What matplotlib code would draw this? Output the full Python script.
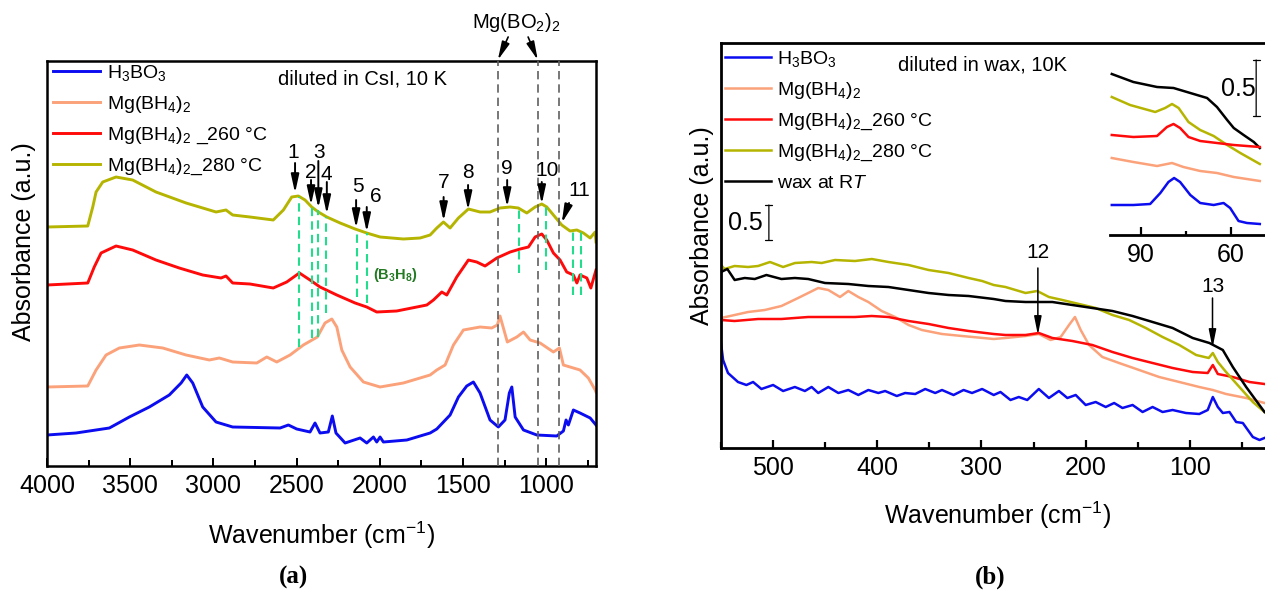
import matplotlib
matplotlib.use("Agg")
import matplotlib.pyplot as plt
from matplotlib.ticker import MultipleLocator, FixedLocator

plt.rcParams["font.family"] = ["Liberation Sans", "DejaVu Sans"]
plt.rcParams["mathtext.fontset"] = "custom"
plt.rcParams["mathtext.rm"] = "Liberation Sans"
plt.rcParams["mathtext.it"] = "Liberation Sans:italic"
plt.rcParams["mathtext.bf"] = "Liberation Sans:bold"
plt.rcParams["mathtext.default"] = "regular"

# ── colours ──
C_BLUE = "#0c0cf0"
C_SALMON = "#fba27a"
C_RED = "#ff0a0a"
C_OLIVE = "#b5b400"
C_BLACK = "#000000"
C_GREEN = "#22dd8c"
C_GREY = "#606060"

# ── panel (a): FTIR, diluted in CsI (wavenumber, absorbance a.u.) ──
olive_a_x = [4000, 3755, 3725, 3705, 3665, 3585, 3485, 3345, 3164, 2984, 2924, 2884, 2780,
             2640, 2579, 2529, 2489, 2449, 2409, 2369, 2318, 2238, 2148, 2078, 1998, 1858,
             1757, 1697, 1657, 1617, 1577, 1527, 1467, 1397, 1337, 1277, 1216, 1167, 1116,
             1066, 1026, 996, 956, 906, 856, 815, 776, 735, 705, 700]
olive_a_y = [239, 240, 259, 274, 284, 289, 286, 274, 263, 254, 256, 251, 249,
             246, 256, 269, 270, 266, 259, 254, 249, 243, 237, 233, 229, 227,
             228, 231, 238, 244, 238, 248, 257, 254, 254, 258, 259, 258, 253,
             259, 262, 259, 251, 241, 235, 236, 233, 228, 234, 224]

red_a_x = [4000, 3755, 3716, 3675, 3585, 3485, 3345, 3205, 3064, 2954, 2924, 2884, 2780,
           2640, 2559, 2483, 2419, 2359, 2258, 2148, 2078, 2018, 1898, 1777, 1717, 1677,
           1627, 1597, 1537, 1467, 1417, 1367, 1296, 1216, 1156, 1106, 1066, 1026, 996,
           956, 916, 876, 836, 815, 796, 755, 731, 700]
red_a_y = [181, 183, 199, 213, 220, 216, 206, 198, 191, 188, 190, 183, 182,
           178, 184, 193, 186, 179, 171, 163, 159, 154, 155, 159, 161, 166,
           174, 171, 189, 206, 204, 200, 208, 214, 217, 219, 229, 232, 226,
           213, 206, 194, 191, 183, 191, 188, 178, 196]

salmon_a_x = [4000, 3755, 3705, 3645, 3565, 3445, 3304, 3164, 3024, 2964, 2884, 2739, 2679,
              2619, 2539, 2459, 2375, 2329, 2288, 2258, 2228, 2178, 2098, 1998, 1858, 1697,
              1657, 1607, 1557, 1497, 1397, 1327, 1293, 1277, 1233, 1176, 1136, 1096, 1036,
              956, 920, 896, 836, 796, 746, 705, 700]
salmon_a_y = [79, 80, 96, 111, 118, 121, 118, 111, 106, 108, 104, 103, 109,
              104, 111, 121, 129, 143, 147, 139, 116, 99, 84, 79, 83, 91,
              96, 101, 121, 136, 139, 138, 141, 150, 124, 129, 134, 126, 123,
              114, 118, 101, 98, 96, 88, 76, 74]

blue_a_x = [4000, 3826, 3625, 3505, 3385, 3265, 3194, 3160, 3124, 3064, 2984, 2884, 2599,
            2549, 2499, 2419, 2389, 2359, 2309, 2285, 2263, 2208, 2118, 2078, 2038, 2018,
            1998, 1978, 1837, 1697, 1657, 1577, 1527, 1477, 1437, 1397, 1337, 1287, 1247,
            1221, 1206, 1186, 1136, 1056, 936, 896, 880, 866, 836, 796, 735, 700]
blue_a_y = [31, 33, 38, 49, 59, 71, 83, 91, 83, 59, 44, 39, 38,
            41, 37, 34, 43, 33, 34, 50, 33, 23, 28, 23, 29, 24,
            29, 24, 26, 33, 37, 51, 69, 80, 84, 73, 46, 39, 46,
            73, 79, 49, 36, 31, 30, 35, 46, 41, 56, 53, 48, 41]

# assigned bands (arrows 1-10) and label positions
peaks_a = [2509, 2413, 2369, 2318, 2142, 2078, 1616, 1469, 1234, 1026]
peak_tail_a = [303, 286, 305, 284, 266, 259, 269, 281, 286, 284]
peak_tip_a = [273, 261, 258, 252, 238, 234, 245, 256, 259, 262]
peak_lbl_x = [2521, 2413, 2365, 2320, 2130, 2025, 1616, 1471, 1234, 996]
peak_lbl_y = [313, 293, 314, 291, 279, 269, 283, 294, 298, 296]

# B3H8 guide lines (green) and Mg(BO2)2 guide lines (grey)
green_x = [2483, 2409, 2369, 2323, 2138, 2078, 1162, 1000, 840, 791]
green_top = [269, 263, 256, 249, 236, 233, 256, 259, 236, 236]
green_bot = [119, 128, 129, 153, 169, 163, 193, 196, 171, 171]
grey_x = [1290, 1050, 924]

# ── panel (b): far-IR, diluted in wax ──
blue_b_x = [550, 548, 543.3, 533.7, 525.6, 519.2, 511.2, 500, 490.4, 479.1, 469.5, 463, 456.7,
            447, 437.4, 427.8, 418.2, 408.6, 399, 392.5, 381.3, 373.3, 363.6, 354, 344.4,
            337.9, 326.8, 317.2, 309.1, 299.4, 288.3, 281.8, 272.2, 264.2, 256.1, 245,
            235.3, 225.7, 217.6, 209.6, 200, 190.4, 180.8, 172.7, 164.7, 155, 145.4, 135.8,
            126.2, 116.6, 103.8, 91, 82.9, 78, 73.2, 68.4, 62, 55.6, 49.2, 39.6, 33.2, 28.4]
blue_b_y = [105, 88, 75, 66, 63, 66, 59, 63, 57, 61, 57, 61, 55,
            61, 55, 58, 53, 58, 55, 57, 52, 55, 54, 59, 55,
            58, 53, 58, 55, 59, 53, 56, 48, 51, 48, 59,
            50, 57, 50, 53, 43, 46, 41, 45, 40, 43, 36, 41,
            36, 38, 35, 34, 38, 51, 41, 35, 36, 26, 25, 11, 8, 10]

salmon_b_x = [550, 536.9, 524, 508, 492, 476, 466.3, 456.7, 447, 435.8, 427.8, 418.2, 408.6,
              395.8, 382.9, 370, 357.2, 337.9, 318.7, 288.3, 277, 257.7, 245, 233.7, 224,
              216, 210.3, 204.8, 196.8, 184, 168, 148.7, 129.5, 110.2, 91, 78, 65.3, 46, 28.4]
salmon_b_y = [130, 133, 136, 138, 142, 150, 155, 160, 158, 151, 157, 151, 146,
              137, 131, 123, 118, 114, 112, 109, 110, 112, 114, 108, 111,
              123, 131, 118, 103, 91, 85, 78, 71, 66, 61, 58, 54, 50, 45]

red_b_x = [550, 537, 514.4, 492, 466.3, 440.6, 421.4, 405.3, 389.3, 370, 350.8, 331.6, 312.3,
           288.3, 277, 257.7, 245, 232, 212.8, 193.6, 174.3, 155, 135.8, 116.6, 97.3, 82.9,
           78, 73.2, 58.8, 42.8, 28.4]
red_b_y = [128, 127, 129, 129, 131, 131, 131, 132, 131, 127, 124, 120, 117,
           114, 113, 113, 115, 110, 107, 103, 96, 90, 85, 80, 76, 75,
           83, 74, 71, 66, 64]

olive_b_x = [550, 546.5, 537, 524, 514.4, 503, 490.4, 479, 463, 453.4, 440.6, 421.4, 405.3,
             389.3, 370, 350.8, 331.6, 312.3, 299.4, 288.3, 277, 257.7, 246.5, 235.3, 222.4,
             206.4, 190.4, 174.3, 158.3, 142.3, 126.2, 110.2, 94, 81.9, 78, 73.2, 65.3, 52.5,
             39.6, 28.4]
olive_b_y = [183, 179, 182, 181, 182, 186, 181, 185, 186, 185, 188, 187, 189,
             186, 183, 178, 175, 170, 167, 163, 161, 155, 157, 151, 148,
             144, 140, 133, 128, 120, 111, 103, 93, 90, 95, 86, 76, 61,
             46, 36]

black_b_x = [550, 543.9, 536.9, 527.2, 517.6, 506.4, 492, 479.1, 466.3, 450.2, 427.8, 408.6,
             389.3, 370, 350.8, 331.6, 312.3, 288.3, 277, 257.7, 232, 212.8, 193.6, 174.3,
             155, 135.8, 116.6, 97.3, 81.3, 68.4, 58.8, 46, 28.4]
black_b_y = [176, 179, 168, 170, 169, 173, 169, 170, 169, 165, 164, 162,
             161, 158, 155, 153, 152, 149, 147, 146, 146, 143, 140, 137,
             132, 126, 120, 110, 105, 98, 81, 61, 36]

peaks_b = [245.9, 78.3]
peak_tail_b = [180, 150]
peak_tip_b = [113, 100]
peak_lbl_b = [195, 161]

# ── inset: 100-48 cm-1 zoom ──
inset_x = [99.8, 92.6, 84.7, 79.2, 73.6, 68, 64.7, 61.3, 59.1, 55.8, 52.4, 50.4]
black_in_y = [161, 153, 148, 147, 142, 137, 128, 115, 107, 100, 93, 87]
olive_in_x = [99.8, 93.7, 85.3, 82, 79.7, 77.5, 74.2, 70.3, 65.8, 61.3, 56.9, 50.4]
olive_in_y = [138, 130, 123, 127, 131, 127, 113, 105, 99, 90, 82, 71]
red_in_x = [99.8, 92.6, 84.7, 81.4, 79.2, 77, 74.2, 70.3, 64.7, 59.1, 50.4]
red_in_y = [100, 98, 99, 108, 111, 107, 98, 94, 92, 90, 88]
salmon_in_x = [99.8, 92.6, 84.7, 79.7, 75.9, 70.3, 64.7, 59.1, 50.4]
salmon_in_y = [77, 73, 69, 72, 68, 64, 62, 58, 54]
blue_in_x = [99.8, 92.6, 87, 83.6, 80.9, 79, 77, 73.6, 70.3, 65.8, 62.5, 60.3, 57.5, 54.7, 50.4]
blue_in_y = [30, 30, 31, 42, 53, 57, 53, 40, 32, 30, 32, 27, 14, 12, 11]

labels_a = ["H$_3$BO$_3$", "Mg(BH$_4$)$_2$", "Mg(BH$_4$)$_2$ _260 °C", "Mg(BH$_4$)$_2$_280 °C"]
labels_b = ["H$_3$BO$_3$", "Mg(BH$_4$)$_2$", "Mg(BH$_4$)$_2$_260 °C", "Mg(BH$_4$)$_2$_280 °C",
            "wax at R$\\mathit{T}$"]

W, H = 1265, 591
fig = plt.figure(figsize=(W / 100, H / 100), dpi=100)

TICK_FS = 18
LABEL_FS = 18
LEG_FS = 14
NUM_FS = 15
ARROW = "-|>,head_length=0.55,head_width=0.12"


def style_axis(ax, lw):
    for s in ax.spines.values():
        s.set_linewidth(lw)
    ax.set_yticks([])
    ax.tick_params(axis="x", which="both", direction="in", labelsize=TICK_FS, pad=6, width=lw * 0.8)
    ax.tick_params(axis="x", which="major", length=6)
    ax.tick_params(axis="x", which="minor", length=4)


# ── panel (a) ──
ax = fig.add_axes([47 / W, (H - 466) / H, 549 / W, 405 / H])
lw_a = 2.1
ax.plot(blue_a_x, blue_a_y, color=C_BLUE, lw=lw_a, label=labels_a[0])
ax.plot(salmon_a_x, salmon_a_y, color=C_SALMON, lw=lw_a, label=labels_a[1])
ax.plot(red_a_x, red_a_y, color=C_RED, lw=lw_a, label=labels_a[2])
ax.plot(olive_a_x, olive_a_y, color=C_OLIVE, lw=lw_a, label=labels_a[3])
ax.vlines(green_x, green_bot, green_top, colors=C_GREEN, linestyles=(0, (4, 2.5)), lw=1.5, zorder=3)
ax.vlines(grey_x, 0, 405, colors=C_GREY, linestyles=(0, (5, 3)), lw=1.2, zorder=3)
ax.set_xlim(4000, 700)
ax.set_ylim(0, 405)
ax.xaxis.set_major_locator(FixedLocator([4000, 3500, 3000, 2500, 2000, 1500, 1000]))
ax.xaxis.set_minor_locator(MultipleLocator(250))
style_axis(ax, 1.8)
ax.set_xlabel("Wavenumber (cm$^{-1}$)", fontsize=LABEL_FS, va="center")
ax.xaxis.set_label_coords(0.5, (466 - 535) / 405)
ax.set_ylabel("Absorbance (a.u.)", fontsize=LABEL_FS, va="center")
ax.yaxis.set_label_coords(-0.042, 0.553)

for px, tail, tip in zip(peaks_a, peak_tail_a, peak_tip_a):
    ax.annotate("", xy=(px, tip), xytext=(px, tail),
                arrowprops=dict(arrowstyle=ARROW, color="k", lw=1.4, shrinkA=0, shrinkB=0,
                                mutation_scale=20), zorder=4)
for i, (lx, ly) in enumerate(zip(peak_lbl_x, peak_lbl_y)):
    ax.text(lx, ly, str(i + 1), fontsize=NUM_FS, ha="center", va="center")
# band 11: slanted arrow
ax.annotate("", xy=(906, 243), xytext=(862, 263),
            arrowprops=dict(arrowstyle=ARROW, color="k", lw=1.4, shrinkA=0, shrinkB=0,
                            mutation_scale=20), zorder=4)
ax.text(800, 276, "11", fontsize=NUM_FS, ha="center", va="center")

ax.text(1908, 191, "(B$_3$H$_8$)", fontsize=10.5, fontweight="bold", color="#237a23",
        ha="center", va="center")
ax.text(2106, 387, "diluted in CsI, 10 K", fontsize=14.5, ha="center", va="center")

ax.text(1180, 443, "Mg(BO$_2$)$_2$", fontsize=14.5, ha="center", va="center", clip_on=False)
for x_from, x_to in [(1228, grey_x[0]), (1108, grey_x[1])]:
    ax.annotate("", xy=(x_to, 406), xytext=(x_from, 429), annotation_clip=False,
                arrowprops=dict(arrowstyle=ARROW, color="k", lw=1.2, shrinkA=0, shrinkB=0,
                                mutation_scale=20))

ax.legend(loc="upper left", bbox_to_anchor=(0.011, 0.995), frameon=False, fontsize=LEG_FS,
          handlelength=2.4, handletextpad=0.35, labelspacing=0.56, borderpad=0, borderaxespad=0)

# ── panel (b) ──
bx = fig.add_axes([721 / W, (H - 448) / H, 546 / W, 405 / H])
lw_b = 1.8
bx.plot(blue_b_x, blue_b_y, color=C_BLUE, lw=lw_b, label=labels_b[0])
bx.plot(salmon_b_x, salmon_b_y, color=C_SALMON, lw=lw_b, label=labels_b[1])
bx.plot(red_b_x, red_b_y, color=C_RED, lw=lw_b, label=labels_b[2])
bx.plot(olive_b_x, olive_b_y, color=C_OLIVE, lw=lw_b, label=labels_b[3])
bx.plot(black_b_x, black_b_y, color=C_BLACK, lw=lw_b, label=labels_b[4])
bx.set_xlim(550, 26)
bx.set_ylim(0, 405)
bx.xaxis.set_major_locator(FixedLocator([500, 400, 300, 200, 100]))
bx.xaxis.set_minor_locator(MultipleLocator(50))
style_axis(bx, 2.0)
bx.spines["right"].set_visible(False)
bx.set_xlabel("Wavenumber (cm$^{-1}$)", fontsize=LABEL_FS, va="center")
bx.xaxis.set_label_coords((998 - 721) / 546, (448 - 515) / 405)
bx.set_ylabel("Absorbance (a.u.)", fontsize=LABEL_FS, va="center")
bx.yaxis.set_label_coords(-0.035, 0.55)

for i, (px, tail, tip, ly) in enumerate(zip(peaks_b, peak_tail_b, peak_tip_b, peak_lbl_b)):
    bx.annotate("", xy=(px, tip), xytext=(px, tail),
                arrowprops=dict(arrowstyle="-|>,head_length=0.55,head_width=0.11", color="k",
                                lw=1.1, shrinkA=0, shrinkB=0, mutation_scale=20), zorder=4)
    bx.text(px, ly, str(12 + i), fontsize=NUM_FS, ha="center", va="center")

bx.text((982 - 721) / 546, (448 - 65) / 405, "diluted in wax, 10K", fontsize=14.5,
        ha="center", va="center", transform=bx.transAxes)
# 0.5 scale bar
bx.annotate("", xy=(0.0877, 0.6), xytext=(0.0877, 0.5136), xycoords="axes fraction",
            arrowprops=dict(arrowstyle="|-|,widthA=0.25,widthB=0.25", lw=0.9, color="k",
                            shrinkA=0, shrinkB=0))
bx.text(0.0452, 0.5556, "0.5", fontsize=18, ha="center", va="center", transform=bx.transAxes)

bx.legend(loc="upper left", bbox_to_anchor=(0.0074, 0.985), frameon=False, fontsize=LEG_FS,
          handlelength=2.35, handletextpad=0.3, labelspacing=0.56, borderpad=0, borderaxespad=0)

# ── inset ──
ix = fig.add_axes([1110 / W, (H - 235) / H, 157 / W, 187 / H])
ix.set_facecolor("none")
lw_i = 1.8
ix.plot(inset_x, black_in_y, color=C_BLACK, lw=lw_i)
ix.plot(olive_in_x, olive_in_y, color=C_OLIVE, lw=lw_i)
ix.plot(red_in_x, red_in_y, color=C_RED, lw=lw_i)
ix.plot(salmon_in_x, salmon_in_y, color=C_SALMON, lw=lw_i)
ix.plot(blue_in_x, blue_in_y, color=C_BLUE, lw=lw_i)
ix.set_xlim(100.4, 48)
ix.set_ylim(0, 187)
for s in ["left", "right", "top"]:
    ix.spines[s].set_visible(False)
ix.spines["bottom"].set_linewidth(2.0)
ix.set_yticks([])
ix.xaxis.set_major_locator(FixedLocator([90, 60]))
ix.xaxis.set_minor_locator(FixedLocator([75]))
ix.tick_params(axis="x", which="both", direction="in", labelsize=TICK_FS, pad=6, width=1.6)
ix.tick_params(axis="x", which="major", length=6)
ix.tick_params(axis="x", which="minor", length=3)
ix.annotate("", xy=(0.931, 0.936), xytext=(0.931, 0.636), xycoords="axes fraction",
            arrowprops=dict(arrowstyle="|-|,widthA=0.25,widthB=0.25", lw=0.9, color="k",
                            shrinkA=0, shrinkB=0))
ix.text(0.817, 0.781, "0.5", fontsize=18, ha="center", va="center", transform=ix.transAxes)

# panel letters
fig.text(294 / W, 1 - 577 / H, "(a)", family="Liberation Serif", fontweight="bold",
         fontsize=18, ha="center", va="center")
fig.text(990 / W, 1 - 577 / H, "(b)", family="Liberation Serif", fontweight="bold",
         fontsize=18, ha="center", va="center")

fig.savefig("out.png", dpi=100)
